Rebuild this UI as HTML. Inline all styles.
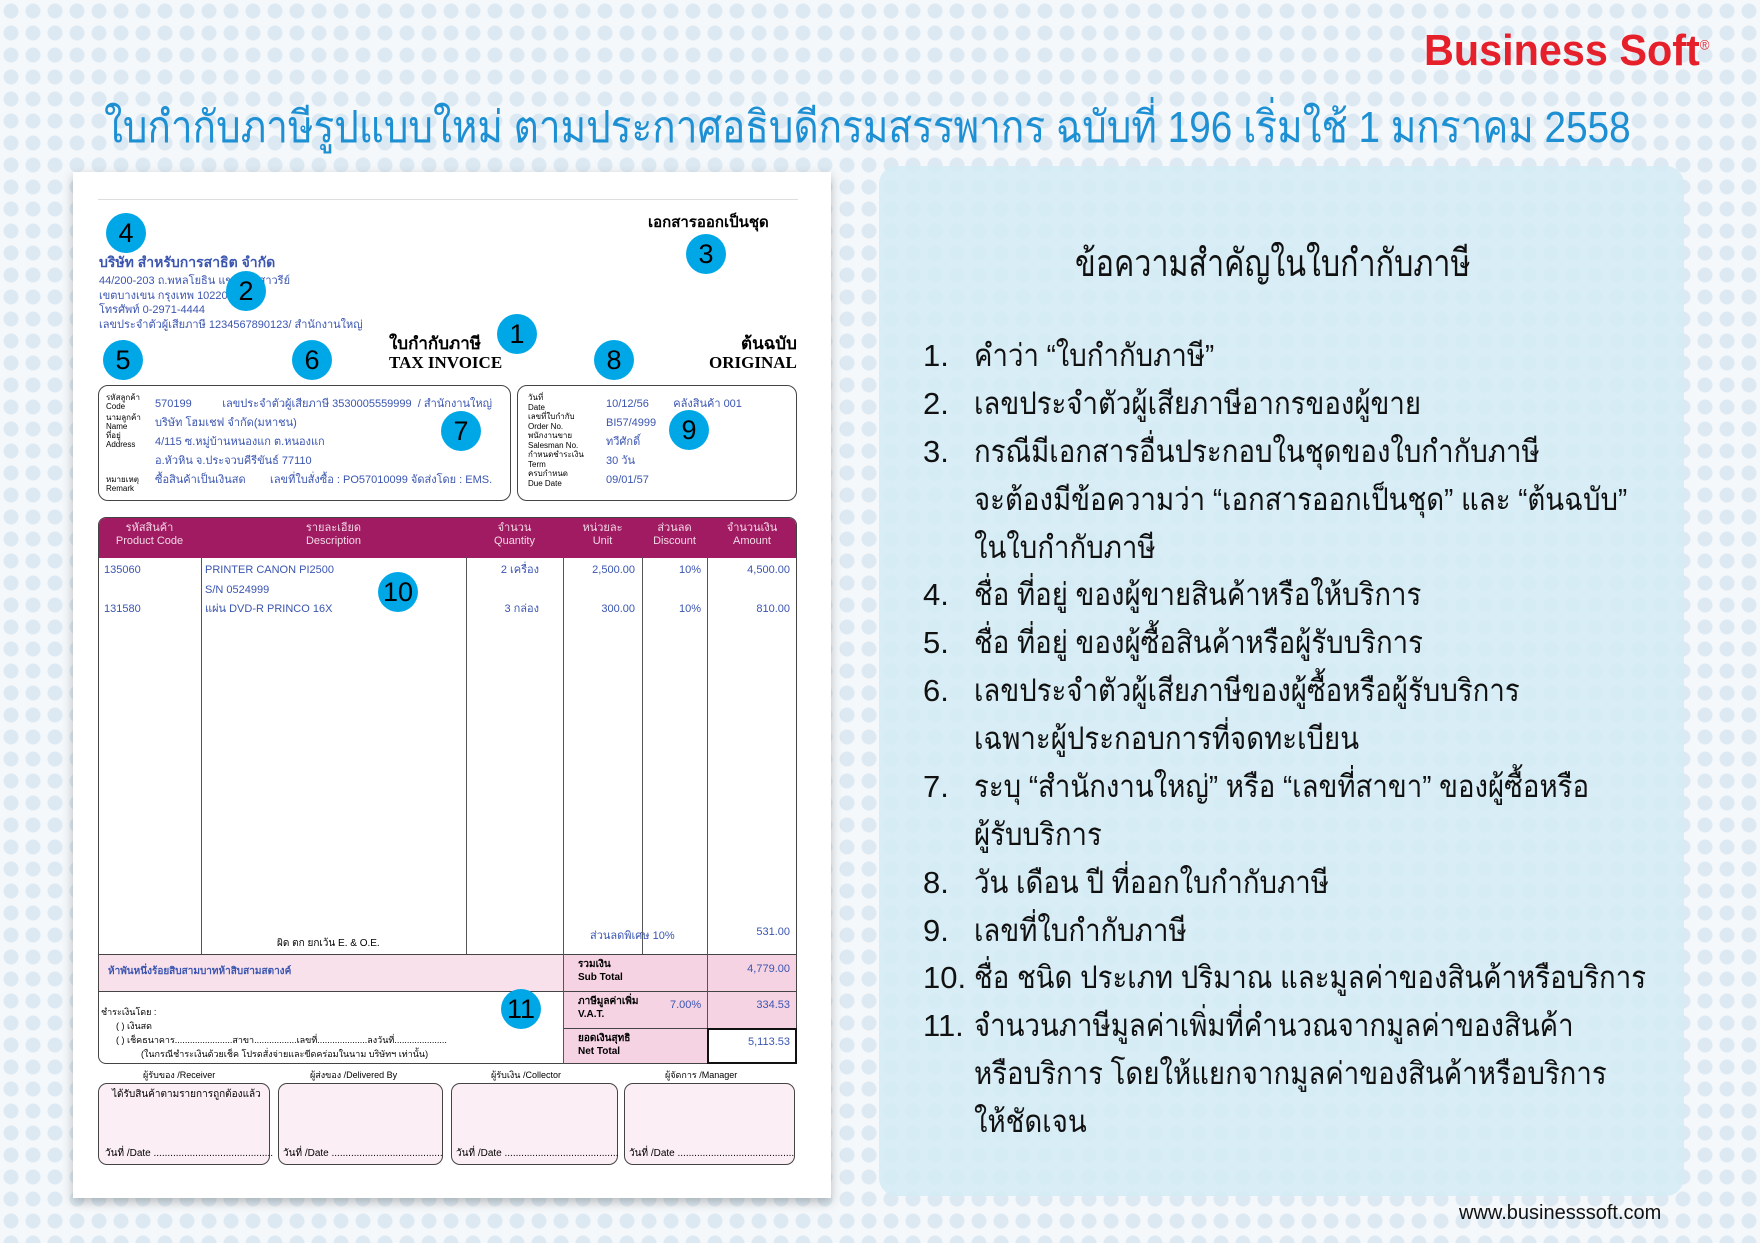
<!DOCTYPE html>
<html><head><meta charset="utf-8">
<style>
*{margin:0;padding:0;box-sizing:border-box}
body{width:1760px;height:1243px;overflow:hidden;position:relative;font-family:"Liberation Sans","Noto Sans CJK SC",sans-serif;
background:#f5f8fb;
background-image:radial-gradient(circle,#dde9f2 0 7px,transparent 8px);background-size:22px 22px}
.abs{position:absolute}
.t{position:absolute;white-space:nowrap}
.c{position:absolute;width:40px;height:40px;border-radius:50%;background:#00a7e6;color:#000;font-size:27px;text-align:center;line-height:40px}
.blue{color:#3a55b0}
.sm{font-size:11px}
.hd{position:absolute;color:#f3d8e6;font-size:11px;text-align:center;line-height:13px}
.vl{position:absolute;width:1px;background:#555}
.li{position:absolute;font-size:31px;line-height:40px;color:#111;white-space:nowrap}
.sx{transform:scaleX(.89);transform-origin:0 0}
</style></head><body>
<div class="t" style="left:1424px;top:26px;font-size:44px;font-weight:bold;color:#e5202a;transform:scaleX(.94);transform-origin:0 0">Business Soft<sup style="font-size:14px;font-weight:normal">®</sup></div>
<div class="t" style="left:104px;top:92px;font-size:44px;color:#1d8fd3;transform:scaleX(.88);transform-origin:0 0">ใบกำกับภาษีรูปแบบใหม่ ตามประกาศอธิบดีกรมสรรพากร ฉบับที่ 196 เริ่มใช้ 1 มกราคม 2558</div>

<!-- paper -->
<div class="abs" style="left:73px;top:172px;width:758px;height:1026px;background:#fff;box-shadow:0 4px 10px rgba(0,0,0,.25)"></div>
<div class="abs" style="left:98px;top:199px;width:700px;height:1px;background:#ddd"></div>
<div class="t" style="left:648px;top:210px;font-size:15px;font-weight:bold">เอกสารออกเป็นชุด</div>
<div class="t blue" style="left:99px;top:252px;font-size:14px;font-weight:bold">บริษัท สำหรับการสาธิต จำกัด</div>
<div class="t blue sm" style="left:99px;top:274px;line-height:14.5px">44/200-203 ถ.พหลโยธิน แขวงอนุสาวรีย์<br>เขตบางเขน กรุงเทพ 10220<br>โทรศัพท์ 0-2971-4444<br>เลขประจำตัวผู้เสียภาษี 1234567890123/ สำนักงานใหญ่</div>
<div class="t" style="left:389px;top:334px;font-size:17px;font-weight:bold;font-family:'Liberation Serif',serif;line-height:19px">ใบกำกับภาษี<br>TAX INVOICE</div>
<div class="t" style="left:709px;top:334px;font-size:17px;font-weight:bold;font-family:'Liberation Serif',serif;line-height:19px;text-align:right">ต้นฉบับ<br>ORIGINAL</div>

<div class="abs" style="left:98px;top:385px;width:413px;height:116px;border:1px solid #444;border-radius:10px"></div>
<div class="abs" style="left:517px;top:385px;width:280px;height:116px;border:1px solid #444;border-radius:10px"></div>
<div class="t" style="left:106px;top:393px;font-size:8px;line-height:9px">รหัสลูกค้า<br>Code</div>
<div class="t" style="left:106px;top:413px;font-size:8px;line-height:9px">นามลูกค้า<br>Name<br>ที่อยู่<br>Address</div>
<div class="t" style="left:106px;top:475px;font-size:8px;line-height:9px">หมายเหตุ<br>Remark</div>
<div class="t blue" style="left:155px;top:395px;font-size:11px;line-height:19px">570199 &nbsp;&nbsp;&nbsp;&nbsp;&nbsp;&nbsp;&nbsp;&nbsp; เลขประจำตัวผู้เสียภาษี 3530005559999 &nbsp;/ สำนักงานใหญ่<br>บริษัท โฮมเชฟ จำกัด(มหาชน)<br>4/115 ซ.หมู่บ้านหนองแก ต.หนองแก<br>อ.หัวหิน จ.ประจวบคีรีขันธ์ 77110<br>ซื้อสินค้าเป็นเงินสด &nbsp;&nbsp;&nbsp;&nbsp;&nbsp;&nbsp; เลขที่ใบสั่งซื้อ : PO57010099 จัดส่งโดย : EMS.</div>
<div class="t" style="left:528px;top:393px;font-size:8px;line-height:9.5px">วันที่<br>Date<br>เลขที่ใบกำกับ<br>Order No.<br>พนักงานขาย<br>Salesman No.<br>กำหนดชำระเงิน<br>Term<br>ครบกำหนด<br>Due Date</div>
<div class="t blue" style="left:606px;top:395px;font-size:11px;line-height:19px">10/12/56 &nbsp;&nbsp;&nbsp;&nbsp;&nbsp;&nbsp; คลังสินค้า 001<br>BI57/4999<br>ทวีศักดิ์<br>30 วัน<br>09/01/57</div>

<!-- table -->
<div class="abs" style="left:98px;top:517px;width:699px;height:547px;border:1px solid #444;border-radius:8px;overflow:hidden">
 <div class="abs" style="left:0;top:0;width:699px;height:40px;background:#a01b62"></div>
 <div class="abs" style="left:0;top:437px;width:464px;height:37px;background:#f9e1ec"></div>
 <div class="abs" style="left:464px;top:437px;width:235px;height:110px;background:#f6d3e3"></div>
</div>
<div class="abs" style="left:98px;top:991px;width:465px;height:1px;background:#444"></div>
<div class="abs" style="left:98px;top:954px;width:699px;height:1px;background:#444"></div>
<div class="abs" style="left:563px;top:991px;width:234px;height:1px;background:#444"></div>
<div class="abs" style="left:563px;top:1028px;width:234px;height:1px;background:#444"></div>
<div class="abs" style="left:707px;top:1028px;width:90px;height:36px;border:2px solid #111;background:#fff"></div>
<div class="vl" style="left:201px;top:557px;height:397px"></div>
<div class="vl" style="left:466px;top:557px;height:397px"></div>
<div class="vl" style="left:563px;top:557px;height:507px"></div>
<div class="vl" style="left:642px;top:557px;height:397px"></div>
<div class="vl" style="left:707px;top:557px;height:471px"></div>
<div class="hd" style="left:98px;top:522px;width:103px">รหัสสินค้า<br>Product Code</div>
<div class="hd" style="left:201px;top:522px;width:265px">รายละเอียด<br>Description</div>
<div class="hd" style="left:466px;top:522px;width:97px">จำนวน<br>Quantity</div>
<div class="hd" style="left:563px;top:522px;width:79px">หน่วยละ<br>Unit</div>
<div class="hd" style="left:642px;top:522px;width:65px">ส่วนลด<br>Discount</div>
<div class="hd" style="left:707px;top:522px;width:90px">จำนวนเงิน<br>Amount</div>
<div class="t blue sm" style="left:104px;top:561px;line-height:19.5px">135060<br><br>131580</div>
<div class="t blue sm" style="left:205px;top:561px;line-height:19.5px">PRINTER CANON PI2500<br>S/N 0524999<br>แผ่น DVD-R PRINCO 16X</div>
<div class="t blue sm" style="left:466px;top:561px;width:73px;text-align:right;line-height:19.5px">2 เครื่อง<br><br>3 กล่อง</div>
<div class="t blue sm" style="left:563px;top:561px;width:72px;text-align:right;line-height:19.5px">2,500.00<br><br>300.00</div>
<div class="t blue sm" style="left:642px;top:561px;width:59px;text-align:right;line-height:19.5px">10%<br><br>10%</div>
<div class="t blue sm" style="left:707px;top:561px;width:83px;text-align:right;line-height:19.5px">4,500.00<br><br>810.00</div>
<div class="t blue sm" style="left:590px;top:926px">ส่วนลดพิเศษ 10%</div>
<div class="t blue sm" style="left:707px;top:926px;width:83px;text-align:right">531.00</div>
<div class="t sm" style="left:277px;top:936px;font-size:10px">ผิด ตก ยกเว้น E. &amp; O.E.</div>
<div class="t blue sm" style="left:108px;top:964px;font-weight:bold;font-size:10px">ห้าพันหนึ่งร้อยสิบสามบาทห้าสิบสามสตางค์</div>
<div class="t" style="left:578px;top:958px;font-size:10px;font-weight:bold;line-height:13px">รวมเงิน<br>Sub Total</div>
<div class="t blue sm" style="left:707px;top:963px;width:83px;text-align:right">4,779.00</div>
<div class="t" style="left:578px;top:995px;font-size:10px;font-weight:bold;line-height:13px">ภาษีมูลค่าเพิ่ม<br>V.A.T.</div>
<div class="t blue sm" style="left:670px;top:999px">7.00%</div>
<div class="t blue sm" style="left:707px;top:999px;width:83px;text-align:right">334.53</div>
<div class="t" style="left:578px;top:1032px;font-size:10px;font-weight:bold;line-height:13px">ยอดเงินสุทธิ<br>Net Total</div>
<div class="t blue sm" style="left:707px;top:1036px;width:83px;text-align:right">5,113.53</div>
<div class="t" style="left:101px;top:1005px;font-size:9px;line-height:14px">ชำระเงินโดย :<br>&nbsp;&nbsp;&nbsp;&nbsp;&nbsp;&nbsp;( ) เงินสด<br>&nbsp;&nbsp;&nbsp;&nbsp;&nbsp;&nbsp;( ) เช็คธนาคาร.......................สาขา.................เลขที่....................ลงวันที่.....................<br>&nbsp;&nbsp;&nbsp;&nbsp;&nbsp;&nbsp;&nbsp;&nbsp;&nbsp;&nbsp;&nbsp;&nbsp;&nbsp;&nbsp;&nbsp;&nbsp;(ในกรณีชำระเงินด้วยเช็ค โปรดสั่งจ่ายและขีดคร่อมในนาม บริษัทฯ เท่านั้น)</div>
<div class="t" style="left:143px;top:1068px;font-size:9px">ผู้รับของ /Receiver</div>
<div class="t" style="left:310px;top:1068px;font-size:9px">ผู้ส่งของ /Delivered By</div>
<div class="t" style="left:491px;top:1068px;font-size:9px">ผู้รับเงิน /Collector</div>
<div class="t" style="left:665px;top:1068px;font-size:9px">ผู้จัดการ /Manager</div>
<div class="abs" style="left:98px;top:1083px;width:172px;height:82px;border:1px solid #444;border-radius:9px;background:#fbeef4"></div>
<div class="abs" style="left:278px;top:1083px;width:165px;height:82px;border:1px solid #444;border-radius:9px;background:#fbeef4"></div>
<div class="abs" style="left:451px;top:1083px;width:167px;height:82px;border:1px solid #444;border-radius:9px;background:#fbeef4"></div>
<div class="abs" style="left:624px;top:1083px;width:171px;height:82px;border:1px solid #444;border-radius:9px;background:#fbeef4"></div>
<div class="t" style="left:112px;top:1087px;font-size:10px">ได้รับสินค้าตามรายการถูกต้องแล้ว</div>
<div class="t" style="left:105px;top:1146px;font-size:10px">วันที่ /Date ...........................................</div>
<div class="t" style="left:283px;top:1146px;font-size:10px">วันที่ /Date ........................................</div>
<div class="t" style="left:456px;top:1146px;font-size:10px">วันที่ /Date .........................................</div>
<div class="t" style="left:629px;top:1146px;font-size:10px">วันที่ /Date ..........................................</div>

<!-- circles -->
<div class="c" style="left:106px;top:213px">4</div>
<div class="c" style="left:226px;top:271px">2</div>
<div class="c" style="left:686px;top:234px">3</div>
<div class="c" style="left:497px;top:314px">1</div>
<div class="c" style="left:103px;top:340px">5</div>
<div class="c" style="left:292px;top:340px">6</div>
<div class="c" style="left:594px;top:340px">8</div>
<div class="c" style="left:441px;top:411px">7</div>
<div class="c" style="left:669px;top:410px">9</div>
<div class="c" style="left:378px;top:572px">10</div>
<div class="c" style="left:501px;top:989px">11</div>

<!-- right panel -->
<div class="abs" style="left:879px;top:166px;width:805px;height:1030px;background:rgba(213,236,244,.92);border-radius:18px"></div>
<div class="t" style="left:1075px;top:232px;font-size:38px;color:#111;transform:scaleX(.8);transform-origin:0 0">ข้อความสำคัญในใบกำกับภาษี</div>
<div class="li" style="left:923px;top:336px">1.</div><div class="li sx" style="left:974px;top:336px">คำว่า “ใบกำกับภาษี”</div>
<div class="li" style="left:923px;top:384px">2.</div><div class="li sx" style="left:974px;top:384px">เลขประจำตัวผู้เสียภาษีอากรของผู้ขาย</div>
<div class="li" style="left:923px;top:432px">3.</div><div class="li sx" style="left:974px;top:432px">กรณีมีเอกสารอื่นประกอบในชุดของใบกำกับภาษี</div>
<div class="li sx" style="left:974px;top:480px">จะต้องมีข้อความว่า “เอกสารออกเป็นชุด” และ “ต้นฉบับ”</div>
<div class="li sx" style="left:974px;top:528px">ในใบกำกับภาษี</div>
<div class="li" style="left:923px;top:575px">4.</div><div class="li sx" style="left:974px;top:575px">ชื่อ ที่อยู่ ของผู้ขายสินค้าหรือให้บริการ</div>
<div class="li" style="left:923px;top:623px">5.</div><div class="li sx" style="left:974px;top:623px">ชื่อ ที่อยู่ ของผู้ซื้อสินค้าหรือผู้รับบริการ</div>
<div class="li" style="left:923px;top:671px">6.</div><div class="li sx" style="left:974px;top:671px">เลขประจำตัวผู้เสียภาษีของผู้ซื้อหรือผู้รับบริการ</div>
<div class="li sx" style="left:974px;top:719px">เฉพาะผู้ประกอบการที่จดทะเบียน</div>
<div class="li" style="left:923px;top:767px">7.</div><div class="li sx" style="left:974px;top:767px">ระบุ “สำนักงานใหญ่” หรือ “เลขที่สาขา” ของผู้ซื้อหรือ</div>
<div class="li sx" style="left:974px;top:815px">ผู้รับบริการ</div>
<div class="li" style="left:923px;top:863px">8.</div><div class="li sx" style="left:974px;top:863px">วัน เดือน ปี ที่ออกใบกำกับภาษี</div>
<div class="li" style="left:923px;top:911px">9.</div><div class="li sx" style="left:974px;top:911px">เลขที่ใบกำกับภาษี</div>
<div class="li" style="left:923px;top:958px">10.</div><div class="li sx" style="left:974px;top:958px">ชื่อ ชนิด ประเภท ปริมาณ และมูลค่าของสินค้าหรือบริการ</div>
<div class="li" style="left:923px;top:1006px">11.</div><div class="li sx" style="left:974px;top:1006px">จำนวนภาษีมูลค่าเพิ่มที่คำนวณจากมูลค่าของสินค้า</div>
<div class="li sx" style="left:974px;top:1054px">หรือบริการ โดยให้แยกจากมูลค่าของสินค้าหรือบริการ</div>
<div class="li sx" style="left:974px;top:1102px">ให้ชัดเจน</div>
<div class="t" style="left:1459px;top:1202px;font-size:20px;color:#111">www.businesssoft.com</div>
</body></html>
